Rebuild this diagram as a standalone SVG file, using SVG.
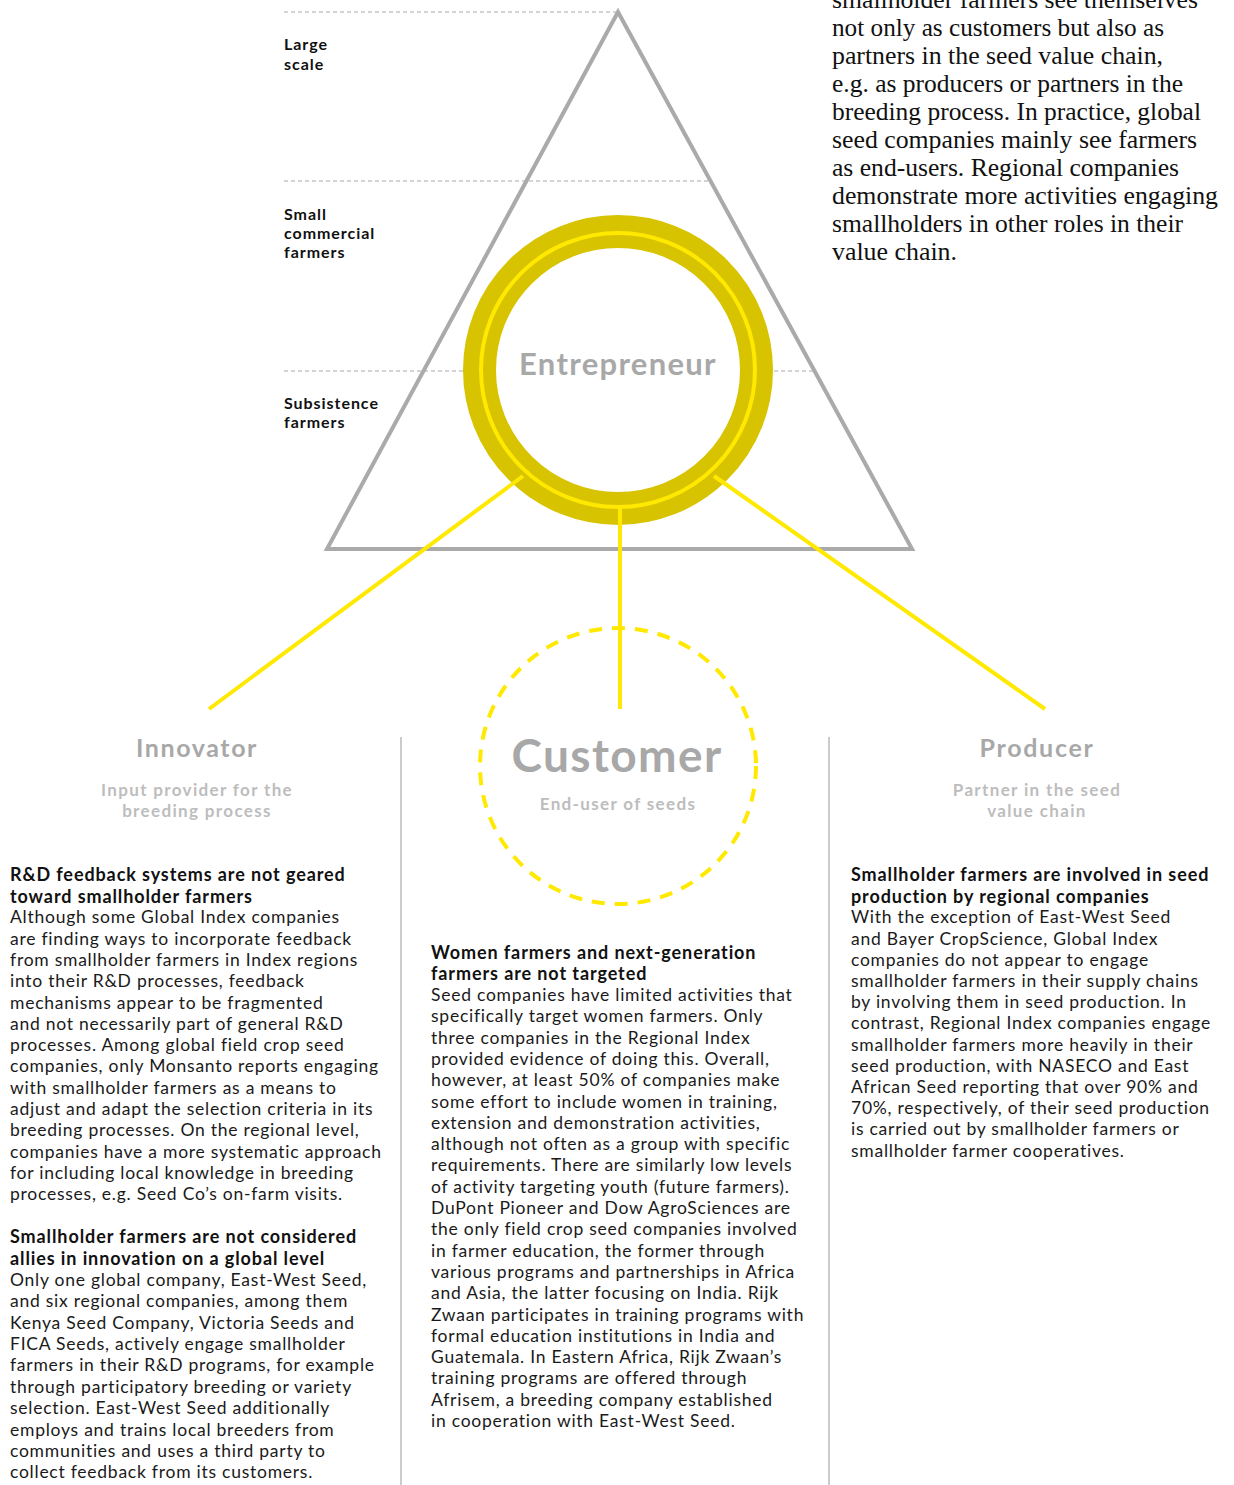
<svg xmlns="http://www.w3.org/2000/svg" width="1234" height="1485" viewBox="0 0 1234 1485">
<style>
.lvl{font-family:Lato,"Noto Sans",sans-serif;font-weight:700;font-size:16px;fill:#111;letter-spacing:0.95px}
.dash{stroke:#aaa;stroke-width:1.2;stroke-dasharray:4 3;fill:none}
.intro{font-family:"Liberation Serif","Times New Roman",serif;font-size:25px;fill:#111}
.role{font-family:Lato,"Noto Sans",sans-serif;font-weight:700;fill:#a8a8a8;text-anchor:middle}
.sub{font-family:Lato,"Noto Sans",sans-serif;font-weight:700;font-size:17px;fill:#bdbdbd;text-anchor:middle;letter-spacing:1.35px}
.hd{font-family:Lato,"Noto Sans",sans-serif;font-weight:700;font-size:18px;fill:#111;letter-spacing:0.9px}
.bd{font-family:Lato,"Noto Sans",sans-serif;font-weight:400;font-size:17.5px;fill:#1a1a1a;letter-spacing:0.75px}
.yl{stroke:#ffe900;stroke-width:4;fill:none}
.div{stroke:#bbb;stroke-width:1.5}
</style>

<g id="levels">
<line class="dash" x1="284" y1="12" x2="618" y2="12"/>
<line class="dash" x1="284" y1="181" x2="710" y2="181"/>
<line class="dash" x1="284" y1="371" x2="814" y2="371"/>
<text class="lvl"><tspan x="284" y="50">Large</tspan><tspan x="284" y="70">scale</tspan></text>
<text class="lvl"><tspan x="284" y="220">Small</tspan><tspan x="284" y="239">commercial</tspan><tspan x="284" y="258">farmers</tspan></text>
<text class="lvl"><tspan x="284" y="409">Subsistence</tspan><tspan x="284" y="428">farmers</tspan></text>
</g>

<g id="triangle">
<polygon points="618,12 327,549 912,549" fill="none" stroke="#aaa" stroke-width="4" stroke-linejoin="miter"/>
</g>

<g id="entrepreneur">
<circle cx="618" cy="370" r="138.5" fill="#fff" stroke="#d8c300" stroke-width="33"/>
<circle cx="618" cy="370" r="137" fill="none" stroke="#ffe900" stroke-width="4"/>
<text class="role" x="618" y="375" font-size="31" letter-spacing="1.3">Entrepreneur</text>
</g>

<g id="connectors">
<line class="yl" x1="523" y1="476" x2="209" y2="709"/>
<line class="yl" x1="620" y1="507" x2="620" y2="709"/>
<line class="yl" x1="714" y1="476" x2="1045" y2="709"/>
</g>

<g id="intro">
<text class="intro" lengthAdjust="spacingAndGlyphs">
<tspan x="832" y="8" textLength="366" lengthAdjust="spacingAndGlyphs">smallholder farmers see themselves</tspan>
<tspan x="832" y="36" textLength="332" lengthAdjust="spacingAndGlyphs">not only as customers but also as</tspan>
<tspan x="832" y="64" textLength="331" lengthAdjust="spacingAndGlyphs">partners in the seed value chain,</tspan>
<tspan x="832" y="92" textLength="351" lengthAdjust="spacingAndGlyphs">e.g. as producers or partners in the</tspan>
<tspan x="832" y="120" textLength="369" lengthAdjust="spacingAndGlyphs">breeding process. In practice, global</tspan>
<tspan x="832" y="148" textLength="365" lengthAdjust="spacingAndGlyphs">seed companies mainly see farmers</tspan>
<tspan x="832" y="176" textLength="347" lengthAdjust="spacingAndGlyphs">as end-users. Regional companies</tspan>
<tspan x="832" y="204" textLength="386" lengthAdjust="spacingAndGlyphs">demonstrate more activities engaging</tspan>
<tspan x="832" y="232" textLength="351" lengthAdjust="spacingAndGlyphs">smallholders in other roles in their</tspan>
<tspan x="832" y="260" textLength="125" lengthAdjust="spacingAndGlyphs">value chain.</tspan>
</text>
</g>

<g id="dividers">
<line class="div" x1="401" y1="737" x2="401" y2="1485"/>
<line class="div" x1="829" y1="737" x2="829" y2="1485"/>
</g>

<g id="innovator">
<text class="role" x="197" y="757" font-size="25" letter-spacing="1.6">Innovator</text>
<text class="sub"><tspan x="197" y="796">Input provider for the</tspan><tspan x="197" y="817">breeding process</tspan></text>
</g>

<g id="customer">
<circle cx="618" cy="766" r="138" fill="none" stroke="#ffe900" stroke-width="4" stroke-dasharray="13 10"/>
<text class="role" x="617" y="772" font-size="46" letter-spacing="1.4">Customer</text>
<text class="sub" x="618" y="810">End-user of seeds</text>
</g>

<g id="producer">
<text class="role" x="1037" y="757" font-size="25" letter-spacing="1.7">Producer</text>
<text class="sub"><tspan x="1037" y="796">Partner in the seed</tspan><tspan x="1037" y="817">value chain</tspan></text>
</g>

<g id="col-left">
<text class="hd"><tspan x="10" y="881">R&amp;D feedback systems are not geared</tspan><tspan x="10" y="902.5">toward smallholder farmers</tspan></text>
<text class="bd">
<tspan x="10" y="923.3">Although some Global Index companies</tspan>
<tspan x="10" dy="21.3">are finding ways to incorporate feedback</tspan>
<tspan x="10" dy="21.3">from smallholder farmers in Index regions</tspan>
<tspan x="10" dy="21.3">into their R&amp;D processes, feedback</tspan>
<tspan x="10" dy="21.3">mechanisms appear to be fragmented</tspan>
<tspan x="10" dy="21.3">and not necessarily part of general R&amp;D</tspan>
<tspan x="10" dy="21.3">processes. Among global field crop seed</tspan>
<tspan x="10" dy="21.3">companies, only Monsanto reports engaging</tspan>
<tspan x="10" dy="21.3">with smallholder farmers as a means to</tspan>
<tspan x="10" dy="21.3">adjust and adapt the selection criteria in its</tspan>
<tspan x="10" dy="21.3">breeding processes. On the regional level,</tspan>
<tspan x="10" dy="21.3">companies have a more systematic approach</tspan>
<tspan x="10" dy="21.3">for including local knowledge in breeding</tspan>
<tspan x="10" dy="21.3">processes, e.g. Seed Co’s on-farm visits.</tspan>
</text>
<text class="hd"><tspan x="10" y="1243.3">Smallholder farmers are not considered</tspan><tspan x="10" y="1264.5">allies in innovation on a global level</tspan></text>
<text class="bd">
<tspan x="10" y="1286">Only one global company, East-West Seed,</tspan>
<tspan x="10" dy="21.37">and six regional companies, among them</tspan>
<tspan x="10" dy="21.37">Kenya Seed Company, Victoria Seeds and</tspan>
<tspan x="10" dy="21.37">FICA Seeds, actively engage smallholder</tspan>
<tspan x="10" dy="21.37">farmers in their R&amp;D programs, for example</tspan>
<tspan x="10" dy="21.37">through participatory breeding or variety</tspan>
<tspan x="10" dy="21.37">selection. East-West Seed additionally</tspan>
<tspan x="10" dy="21.37">employs and trains local breeders from</tspan>
<tspan x="10" dy="21.37">communities and uses a third party to</tspan>
<tspan x="10" dy="21.37">collect feedback from its customers.</tspan>
</text>
</g>

<g id="col-middle">
<text class="hd"><tspan x="431" y="959">Women farmers and next-generation</tspan><tspan x="431" y="980">farmers are not targeted</tspan></text>
<text class="bd">
<tspan x="431" y="1001">Seed companies have limited activities that</tspan>
<tspan x="431" dy="21.3">specifically target women farmers. Only</tspan>
<tspan x="431" dy="21.3">three companies in the Regional Index</tspan>
<tspan x="431" dy="21.3">provided evidence of doing this. Overall,</tspan>
<tspan x="431" dy="21.3">however, at least 50% of companies make</tspan>
<tspan x="431" dy="21.3">some effort to include women in training,</tspan>
<tspan x="431" dy="21.3">extension and demonstration activities,</tspan>
<tspan x="431" dy="21.3">although not often as a group with specific</tspan>
<tspan x="431" dy="21.3">requirements. There are similarly low levels</tspan>
<tspan x="431" dy="21.3">of activity targeting youth (future farmers).</tspan>
<tspan x="431" dy="21.3">DuPont Pioneer and Dow AgroSciences are</tspan>
<tspan x="431" dy="21.3">the only field crop seed companies involved</tspan>
<tspan x="431" dy="21.3">in farmer education, the former through</tspan>
<tspan x="431" dy="21.3">various programs and partnerships in Africa</tspan>
<tspan x="431" dy="21.3">and Asia, the latter focusing on India. Rijk</tspan>
<tspan x="431" dy="21.3">Zwaan participates in training programs with</tspan>
<tspan x="431" dy="21.3">formal education institutions in India and</tspan>
<tspan x="431" dy="21.3">Guatemala. In Eastern Africa, Rijk Zwaan’s</tspan>
<tspan x="431" dy="21.3">training programs are offered through</tspan>
<tspan x="431" dy="21.3">Afrisem, a breeding company established</tspan>
<tspan x="431" dy="21.3">in cooperation with East-West Seed.</tspan>
</text>
</g>

<g id="col-right">
<text class="hd"><tspan x="851" y="881">Smallholder farmers are involved in seed</tspan><tspan x="851" y="902.5">production by regional companies</tspan></text>
<text class="bd">
<tspan x="851" y="923.3">With the exception of East-West Seed</tspan>
<tspan x="851" dy="21.2">and Bayer CropScience, Global Index</tspan>
<tspan x="851" dy="21.2">companies do not appear to engage</tspan>
<tspan x="851" dy="21.2">smallholder farmers in their supply chains</tspan>
<tspan x="851" dy="21.2">by involving them in seed production. In</tspan>
<tspan x="851" dy="21.2">contrast, Regional Index companies engage</tspan>
<tspan x="851" dy="21.2">smallholder farmers more heavily in their</tspan>
<tspan x="851" dy="21.2">seed production, with NASECO and East</tspan>
<tspan x="851" dy="21.2">African Seed reporting that over 90% and</tspan>
<tspan x="851" dy="21.2">70%, respectively, of their seed production</tspan>
<tspan x="851" dy="21.2">is carried out by smallholder farmers or</tspan>
<tspan x="851" dy="21.2">smallholder farmer cooperatives.</tspan>
</text>
</g>
</svg>
